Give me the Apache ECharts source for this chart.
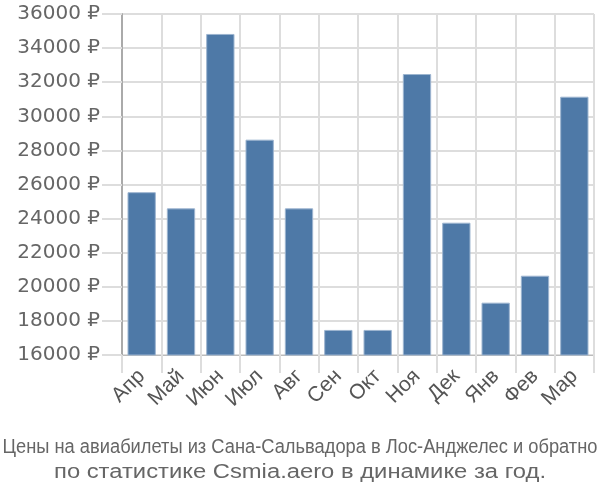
<!DOCTYPE html>
<html><head><meta charset="utf-8">
<script src="https://cdn.jsdelivr.net/npm/echarts@6/dist/echarts.min.js"></script>
<style>html,body{margin:0;padding:0;background:#fff}#c{width:600px;height:500px}</style>
</head><body><div id="c"></div>
<script>
const categories = ['Апр','Май','Июн','Июл','Авг','Сен','Окт','Ноя','Дек','Янв','Фев','Мар'];
const prices = [25550, 24600, 34830, 28630, 24600, 17470, 17470, 32480, 23760, 19070, 20650, 31150];
const titleLine1 = 'Цены на авиабилеты из Сана-Сальвадора в Лос-Анджелес и обратно';
const titleLine2 = 'по статистике Csmia.aero в динамике за год.';

function textWidth(t, font) {
  const c = document.createElement('canvas').getContext('2d');
  c.font = font;
  return c.measureText(t).width;
}
const f1 = '20px "Liberation Sans"';
const f2 = '20px "Liberation Sans"';
const s1 = 595 / textWidth(titleLine1, f1);
const s2 = 492 / textWidth(titleLine2, f2);

const chart = echarts.init(document.getElementById('c'));
chart.setOption({
  animation: false,
  graphic: [
    {type: 'text', x: 300, y: 447, scaleX: s1, style: {text: titleLine1, font: f1, fill: '#666', align: 'center', verticalAlign: 'middle'}},
    {type: 'text', x: 300, y: 472, scaleX: s2, style: {text: titleLine2, font: f2, fill: '#666', align: 'center', verticalAlign: 'middle'}}
  ],
  grid: {left: 122, right: 6, top: 14, bottom: 145},
  xAxis: {
    type: 'category', data: categories,
    axisLine: {lineStyle: {color: '#bbb', width: 1}},
    axisTick: {show: true, interval: 0, length: 18, lineStyle: {color: '#ddd', width: 2}},
    splitLine: {show: true, interval: 0, lineStyle: {color: '#ddd', width: 2}},
    axisLabel: {interval: 0, rotate: 45, fontSize: 21, color: '#555', fontFamily: 'Liberation Sans', margin: 18}
  },
  yAxis: {
    type: 'value', min: 16000, max: 36000, interval: 2000,
    axisLine: {show: true, lineStyle: {color: '#aaa', width: 2}},
    axisTick: {show: true, length: 20, lineStyle: {color: '#ddd', width: 2}},
    splitLine: {lineStyle: {color: '#ddd', width: 2}},
    axisLabel: {formatter: v => v + ' ₽', fontSize: 20, color: '#666', fontFamily: 'DejaVu Sans', margin: 22}
  },
  series: [{
    type: 'bar', data: prices, barCategoryGap: '28%',
    itemStyle: {color: '#4e79a7', borderColor: '#9db5d0', borderWidth: 1}
  }]
});
</script></body></html>
